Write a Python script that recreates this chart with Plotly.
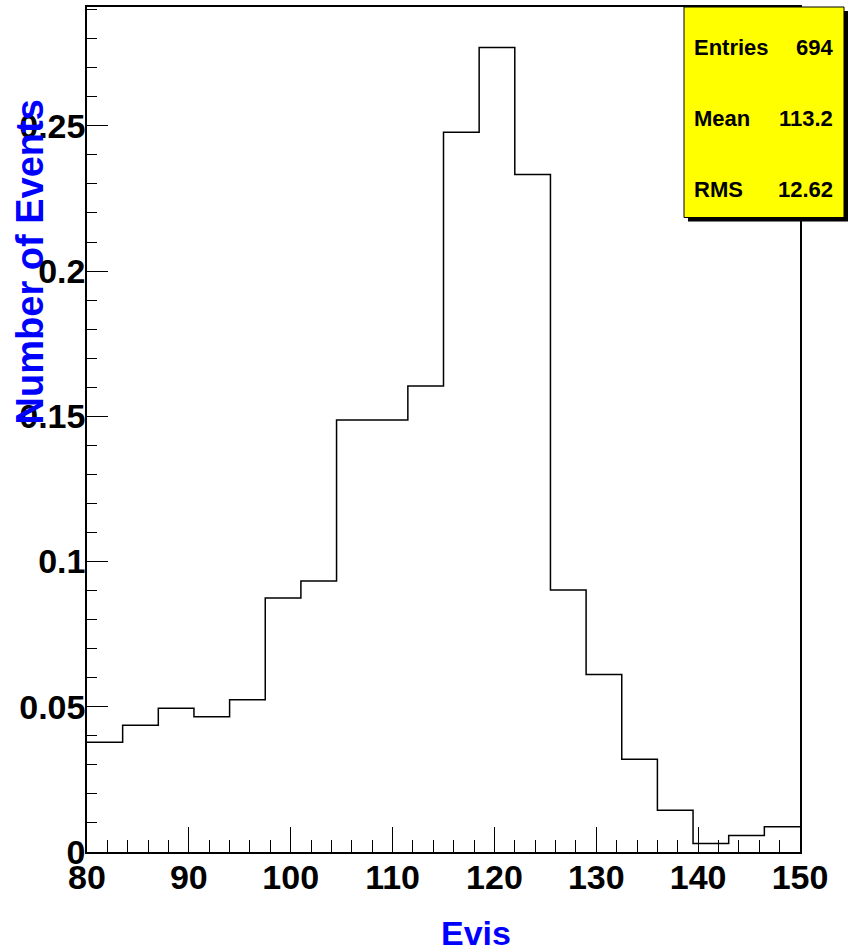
import plotly.graph_objects as go

# Histogram of visible energy: 20 bins of width 3.5 between 80 and 150
bin_edges = [80 + 3.5 * i for i in range(21)]
bin_values = [0.0378, 0.0436, 0.0495, 0.0466, 0.0524,
              0.0874, 0.0933, 0.1487, 0.1487, 0.1604,
              0.2478, 0.2770, 0.2332, 0.0902, 0.0611,
              0.0319, 0.0144, 0.0029, 0.0057, 0.0087]

stat_labels = ["Entries", "Mean", "RMS"]
stat_values = ["694", "113.2", "12.62"]

x_title = "Evis"
y_title = "Number of Events"

SANS = "Liberation Sans, Arial, Helvetica, sans-serif"

W, H = 850, 952
ML, MR, MT, MB = 87, 50, 5, 100
PW, PH = W - ML - MR, H - MT - MB


def px_x(p):
    return (p - ML) / PW


def px_y(p):
    return 1 - (p - MT) / PH


# step outline: each bin drawn flat, joined by vertical risers
step_x = bin_edges[:-1] + [bin_edges[-1]]
step_y = bin_values + [bin_values[-1]]

fig = go.Figure()
fig.add_trace(go.Scatter(
    x=step_x, y=step_y, mode="lines",
    line=dict(shape="hv", color="black", width=1.5),
    hoverinfo="skip", showlegend=False,
))

tick_font = dict(family=SANS, size=34, color="black", weight="bold")

fig.update_xaxes(
    range=[80, 150], dtick=10, tick0=80,
    ticks="inside", ticklen=25, tickwidth=1, tickcolor="black",
    minor=dict(dtick=2, tick0=80, ticks="inside", ticklen=12, tickwidth=1, tickcolor="black"),
    showline=True, linecolor="black", linewidth=1.5, mirror=True,
    showgrid=False, zeroline=False, tickfont=tick_font,
    ticklabelstandoff=-6,
)
fig.update_yaxes(
    range=[0, 0.2909], dtick=0.05, tick0=0,
    ticks="inside", ticklen=21, tickwidth=1, tickcolor="black",
    minor=dict(dtick=0.01, tick0=0, ticks="inside", ticklen=10, tickwidth=1, tickcolor="black"),
    showline=True, linecolor="black", linewidth=1.5, mirror=True,
    showgrid=False, zeroline=False, tickfont=tick_font,
    ticklabelstandoff=-7,
)

# statistics box with drop shadow
box_l, box_t, box_r, box_b = 684, 5, 844, 216
shadow = 4
fig.add_shape(type="rect", xref="paper", yref="paper",
              x0=px_x(box_l + shadow), x1=px_x(box_r + shadow),
              y0=px_y(box_b + shadow), y1=px_y(box_t + shadow),
              fillcolor="black", line=dict(width=0), layer="above")
fig.add_shape(type="rect", xref="paper", yref="paper",
              x0=px_x(box_l), x1=px_x(box_r),
              y0=px_y(box_b), y1=px_y(box_t),
              fillcolor="#ffff00", line=dict(color="black", width=1), layer="above")

stat_font = dict(family=SANS, size=22, color="black", weight="bold")
row_y = [46, 117, 188]
for lab, val, ry in zip(stat_labels, stat_values, row_y):
    fig.add_annotation(x=px_x(692), y=px_y(ry), xref="paper", yref="paper",
                       text=lab, showarrow=False, xanchor="left", yanchor="middle",
                       font=stat_font)
    fig.add_annotation(x=px_x(835), y=px_y(ry), xref="paper", yref="paper",
                       text=val, showarrow=False, xanchor="right", yanchor="middle",
                       font=stat_font)

# axis titles
fig.add_annotation(x=px_x(476), y=px_y(933), xref="paper", yref="paper",
                   text=x_title, showarrow=False, xanchor="center", yanchor="middle",
                   font=dict(family=SANS, size=34, color="#0000ff", weight="bold"))
fig.add_annotation(x=px_x(30), y=px_y(261), xref="paper", yref="paper",
                   text=y_title, showarrow=False, xanchor="center", yanchor="middle",
                   textangle=-90,
                   font=dict(family=SANS, size=38, color="#0000ff", weight="bold"))

fig.update_layout(
    width=W, height=H,
    margin=dict(l=ML, r=MR, t=MT, b=MB),
    paper_bgcolor="white", plot_bgcolor="white",
    showlegend=False,
)

fig.write_html("out.html")
